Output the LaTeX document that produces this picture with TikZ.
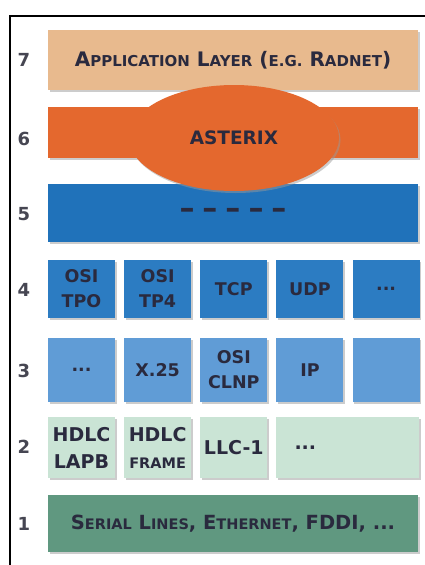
\documentclass[tikz,border=0pt]{standalone}
\usepackage{fontspec}
\setmainfont{DejaVu Sans}
\usepackage{xcolor}
\definecolor{apptan}{RGB}{232,186,142}
\definecolor{asxorange}{RGB}{228,104,46}
\definecolor{sessblue}{RGB}{32,114,186}
\definecolor{trblue}{RGB}{44,124,194}
\definecolor{netblue}{RGB}{96,156,214}
\definecolor{linkgreen}{RGB}{202,228,213}
\definecolor{physgreen}{RGB}{96,152,128}
\definecolor{lbltext}{RGB}{42,42,62}
\definecolor{numgray}{RGB}{70,70,82}
\usetikzlibrary{positioning, shadows, shapes.geometric}
\newcommand{\lsc}[1]{{\fontsize{15}{15}\selectfont #1}}

\begin{document}
\begin{tikzpicture}[x=1pt, y=-1pt,
    layer/.style={rectangle, inner sep=0pt, align=center, text=lbltext,
                  font=\bfseries\fontsize{17.5}{25}\selectfont,
                  drop shadow={shadow xshift=1.5pt, shadow yshift=-2pt, fill=black!40, opacity=.5}},
    fullbar/.style={layer, minimum width=370pt},
    cell/.style={layer, minimum width=67pt},
    linkcell/.style={cell, minimum height=61pt, fill=linkgreen,
                     font=\bfseries\fontsize{19}{27}\selectfont},
    laynum/.style={font=\bfseries\fontsize{18}{18}\selectfont, text=numgray},
  ]
    \useasboundingbox (0,0) rectangle (425,565);

    % --- frame ---
    \draw[line width=2pt] (10,570) -- (10,16) -- (430,16);

    % --- layer 7 ---
    \node[fullbar, minimum height=60pt, fill=apptan] (app) at (233,60)
      {\fontsize{20}{20}\selectfont A\lsc{PPLICATION} L\lsc{AYER} (\lsc{E.G.} R\lsc{ADNET})};

    % --- layer 5 ---
    \node[fullbar, minimum height=58pt, fill=sessblue] (sess) at (233,213)
      {\fontsize{30}{30}\selectfont --\hspace{8pt}--\hspace{8pt}--\hspace{8pt}--\hspace{8pt}--};

    % --- layer 6 ---
    \node[fullbar, minimum height=51pt, fill=asxorange] (pres) at (233,132.5) {};
    \node[ellipse, inner sep=0pt, minimum width=210pt, minimum height=106pt, fill=asxorange,
          text=lbltext, font=\bfseries\fontsize{18.5}{18.5}\selectfont,
          drop shadow={shadow xshift=1.5pt, shadow yshift=-2pt, fill=black!40, opacity=.5}]
      (asterix) at (234,138) {ASTERIX};

    % --- layer 4 ---
    \node[cell, minimum height=58pt, fill=trblue] (tp0) at (81.5,289) {OSI\\TPO};
    \node[cell, minimum height=58pt, fill=trblue, right=8.75pt of tp0] (tp4) {OSI\\TP4};
    \node[cell, minimum height=58pt, fill=trblue, right=8.75pt of tp4] (tcp) {TCP};
    \node[cell, minimum height=58pt, fill=trblue, right=8.75pt of tcp] (udp) {UDP};
    \node[cell, minimum height=58pt, fill=trblue, right=8.75pt of udp] (tpmore) {...};

    % --- layer 3 ---
    \node[cell, minimum height=64pt, fill=netblue] (netmore) at (81.5,370) {...};
    \node[cell, minimum height=64pt, fill=netblue, right=8.75pt of netmore] (x25) {X.25};
    \node[cell, minimum height=64pt, fill=netblue, right=8.75pt of x25] (clnp) {OSI\\CLNP};
    \node[cell, minimum height=64pt, fill=netblue, right=8.75pt of clnp] (ip) {IP};
    \node[cell, minimum height=64pt, fill=netblue, right=8.75pt of ip] (netfree) {};

    % --- layer 2 ---
    \node[linkcell] (lapb) at (81.5,447.5) {HDLC\\LAPB};
    \node[linkcell, right=8.75pt of lapb] (frame)
      {HDLC\\{\fontsize{14.5}{14.5}\selectfont FRAME}};
    \node[linkcell, right=8.75pt of frame] (llc) {LLC-1};
    \node[linkcell, minimum width=142.75pt, right=8.75pt of llc] (linkmore)
      {\hspace*{-85pt}...};

    % --- layer 1 ---
    \node[fullbar, minimum height=57pt, fill=physgreen] (phys) at (233,523.5)
      {\fontsize{19.5}{19.5}\selectfont S{\fontsize{14.5}{14.5}\selectfont ERIAL} L{\fontsize{14.5}{14.5}\selectfont INES},
       E{\fontsize{14.5}{14.5}\selectfont THERNET}, FDDI, ...};

    % --- layer numbers ---
    \node[laynum] (n7) at (24,60) {7};
    \node[laynum] (n6) at (24,139) {6};
    \node[laynum] (n5) at (24,214) {5};
    \node[laynum] (n4) at (24,290) {4};
    \node[laynum] (n3) at (24,371) {3};
    \node[laynum] (n2) at (24,447) {2};
    \node[laynum] (n1) at (24,524) {1};
\end{tikzpicture}
\end{document}
